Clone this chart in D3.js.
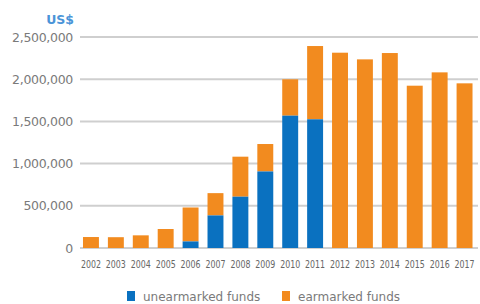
<!DOCTYPE html>
<html><head><meta charset="utf-8">
<script src="https://cdn.jsdelivr.net/npm/d3@7"></script>
<style>body{margin:0;background:#fff}svg{display:block}</style>
</head><body>
<svg id="c" width="480" height="304"></svg>
<script>
const years = ["2002","2003","2004","2005","2006","2007","2008","2009","2010","2011","2012","2013","2014","2015","2016","2017"];
const unearmarked = [0,0,0,0,78000,386000,608000,907000,1568000,1525000,0,0,0,0,0,0];
const totals = [130000,128000,150000,225000,480000,650000,1082000,1232000,1999000,2393000,2314000,2235000,2310000,1923000,2081000,1951000];
const yTicks = [0,500000,1000000,1500000,2000000,2500000];
const seriesNames = ["unearmarked funds","earmarked funds"];
const colors = ["#0a71c0","#f28b1f"];

const svg = d3.select("#c");
const x = d3.scaleBand().domain(years).range([78.5, 477]).paddingInner(0.36).paddingOuter(0.18);
const y = d3.scaleLinear().domain([0,2500000]).range([248,37]);

const fmt = d3.format(",");
svg.append("g").selectAll("line").data(yTicks).join("line")
  .attr("x1",80).attr("x2",478).attr("y1",d=>y(d)).attr("y2",d=>y(d))
  .attr("stroke","#cfcfcf").attr("stroke-width",2);
svg.append("g").selectAll("text").data(yTicks).join("text")
  .attr("x",73).attr("y",d=>y(d)+4.5).attr("text-anchor","end")
  .attr("font-family","DejaVu Sans").attr("font-size",12.5).attr("fill","#7a7a7a")
  .attr("letter-spacing",-0.3)
  .text(d=>fmt(d));
svg.append("text").attr("x",74).attr("y",24).attr("text-anchor","end")
  .attr("font-family","DejaVu Sans").attr("font-weight","bold").attr("font-size",12.5)
  .attr("fill","#4a94d8").text("US$");

const data = years.map((yr,i)=>({yr, u:unearmarked[i], t:totals[i]}));
svg.append("g").selectAll("rect").data(data).join("rect")
  .attr("x",d=>x(d.yr)).attr("width",x.bandwidth())
  .attr("y",d=>y(d.t)).attr("height",d=>y(d.u)-y(d.t))
  .attr("fill",colors[1]);
svg.append("g").selectAll("rect").data(data.filter(d=>d.u>0)).join("rect")
  .attr("x",d=>x(d.yr)).attr("width",x.bandwidth())
  .attr("y",d=>y(d.u)).attr("height",d=>y(0)-y(d.u))
  .attr("fill",colors[0]);

svg.append("g").selectAll("text").data(years).join("text")
  .attr("x",d=>x(d)+x.bandwidth()/2).attr("y",267.5).attr("text-anchor","middle")
  .attr("font-family","Liberation Sans Narrow, DejaVu Sans Condensed").attr("font-size",11)
  .attr("fill","#666").attr("textLength",20).attr("lengthAdjust","spacingAndGlyphs")
  .text(d=>d);

const lg = [{x:127,name:seriesNames[0],c:colors[0]},{x:282,name:seriesNames[1],c:colors[1]}];
const g = svg.append("g");
g.selectAll("rect").data(lg).join("rect").attr("x",d=>d.x).attr("y",291).attr("width",8).attr("height",10).attr("fill",d=>d.c);
g.selectAll("text").data(lg).join("text").attr("x",d=>d.x+16).attr("y",301)
  .attr("font-family","DejaVu Sans").attr("font-size",12).attr("fill","#7a7a7a").text(d=>d.name);
</script>
</body></html>
